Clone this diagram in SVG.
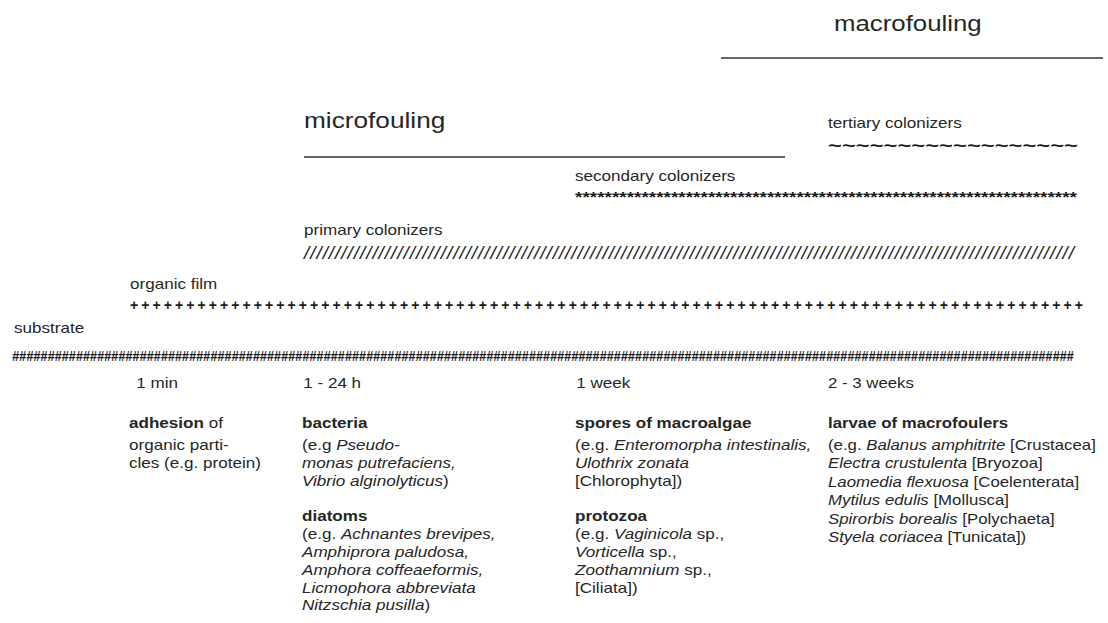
<svg xmlns="http://www.w3.org/2000/svg" width="1108" height="623" viewBox="0 0 1108 623">
<style>
text{font-family:"Liberation Sans",Arial,sans-serif;fill:#262626}
.t{font-size:14px}
.big{font-size:21.5px}
.b{font-weight:bold}
.i{font-style:italic}
.pat{font-family:"Liberation Sans",Arial,sans-serif;fill:#1a1a1a}
.bar{stroke:#333;stroke-width:1.6;fill:none}
</style>
<rect width="1108" height="623" fill="#fff"/>

<g id="macrofouling">
<text class="big" transform="translate(834 31) scale(1.2 1)">macrofouling</text>
<line class="bar" x1="721" y1="58" x2="1103" y2="58"/>
</g>

<g id="microfouling">
<text class="big" transform="translate(304 128) scale(1.22 1)">microfouling</text>
<line class="bar" x1="304" y1="157" x2="785" y2="157"/>
</g>

<g id="tertiary-colonizers">
<text class="t" transform="translate(828 128) scale(1.22 1)">tertiary colonizers</text>
<text class="pat" x="828" y="151" font-size="17" font-weight="bold" textLength="250" lengthAdjust="spacingAndGlyphs">~~~~~~~~~~~~~~~~~~</text>
</g>

<g id="secondary-colonizers">
<text class="t" transform="translate(575 181) scale(1.22 1)">secondary colonizers</text>
<text class="pat" x="575" y="202" font-size="14" font-weight="bold" textLength="502" lengthAdjust="spacingAndGlyphs">********************************************************************</text>
</g>

<g id="primary-colonizers">
<text class="t" transform="translate(304 235) scale(1.22 1)">primary colonizers</text>
<text class="pat" x="304" y="259" font-size="19" font-style="italic" textLength="770" lengthAdjust="spacing">////////////////////////////////////////////////////////////////////////////////////////////////////////////////////////////</text>
</g>

<g id="organic-film">
<text class="t" transform="translate(130 289) scale(1.22 1)">organic film</text>
<text class="pat" x="130" y="310" font-size="14" font-weight="bold" textLength="953" lengthAdjust="spacing">+++++++++++++++++++++++++++++++++++++++++++++++++++++++++++++++++++++++++++++++++++++</text>
</g>

<g id="substrate">
<text class="t" transform="translate(14 333) scale(1.22 1)">substrate</text>
<text class="pat" transform="translate(12 361) scale(0.85 1)" font-size="15" font-weight="bold" font-style="italic" textLength="1249" lengthAdjust="spacingAndGlyphs">######################################################################################################################################################</text>
</g>

<g id="stage-1min" transform="translate(129 0) scale(1.22 1)">
<text class="t" x="6" y="388">1 min</text>
<text class="t" y="428"><tspan class="b">adhesion</tspan> of</text>
<text class="t" y="450">organic parti-</text>
<text class="t" y="468">cles (e.g. protein)</text>
</g>

<g id="stage-1-24h" transform="translate(302 0) scale(1.22 1)">
<text class="t" x="1" y="388">1 - 24 h</text>
<text class="t b" y="428">bacteria</text>
<text class="t" y="450">(e.g <tspan class="i">Pseudo-</tspan></text>
<text class="t i" y="468">monas putrefaciens,</text>
<text class="t" y="486"><tspan class="i">Vibrio alginolyticus</tspan>)</text>
<text class="t b" y="521">diatoms</text>
<text class="t" y="539">(e.g. <tspan class="i">Achnantes brevipes,</tspan></text>
<text class="t i" y="557">Amphiprora paludosa,</text>
<text class="t i" y="575">Amphora coffeaeformis,</text>
<text class="t i" y="593">Licmophora abbreviata</text>
<text class="t" y="610"><tspan class="i">Nitzschia pusilla</tspan>)</text>
</g>

<g id="stage-1week" transform="translate(575 0) scale(1.22 1)">
<text class="t" x="1" y="388">1 week</text>
<text class="t b" y="428">spores of macroalgae</text>
<text class="t" y="450">(e.g. <tspan class="i">Enteromorpha intestinalis,</tspan></text>
<text class="t i" y="468">Ulothrix zonata</text>
<text class="t" y="486">[Chlorophyta])</text>
<text class="t b" y="521">protozoa</text>
<text class="t" y="539">(e.g. <tspan class="i">Vaginicola</tspan> sp.,</text>
<text class="t" y="557"><tspan class="i">Vorticella</tspan> sp.,</text>
<text class="t" y="575"><tspan class="i">Zoothamnium</tspan> sp.,</text>
<text class="t" y="593">[Ciliata])</text>
</g>

<g id="stage-2-3weeks" transform="translate(828 0) scale(1.2 1)">
<text class="t" y="388">2 - 3 weeks</text>
<text class="t b" y="428">larvae of macrofoulers</text>
<text class="t" y="450">(e.g. <tspan class="i">Balanus amphitrite</tspan> [Crustacea]</text>
<text class="t" y="468.5"><tspan class="i">Electra crustulenta</tspan> [Bryozoa]</text>
<text class="t" y="487"><tspan class="i">Laomedia flexuosa</tspan> [Coelenterata]</text>
<text class="t" y="505.5"><tspan class="i">Mytilus edulis</tspan> [Mollusca]</text>
<text class="t" y="524"><tspan class="i">Spirorbis borealis</tspan> [Polychaeta]</text>
<text class="t" y="542.5"><tspan class="i">Styela coriacea</tspan> [Tunicata])</text>
</g>
</svg>
